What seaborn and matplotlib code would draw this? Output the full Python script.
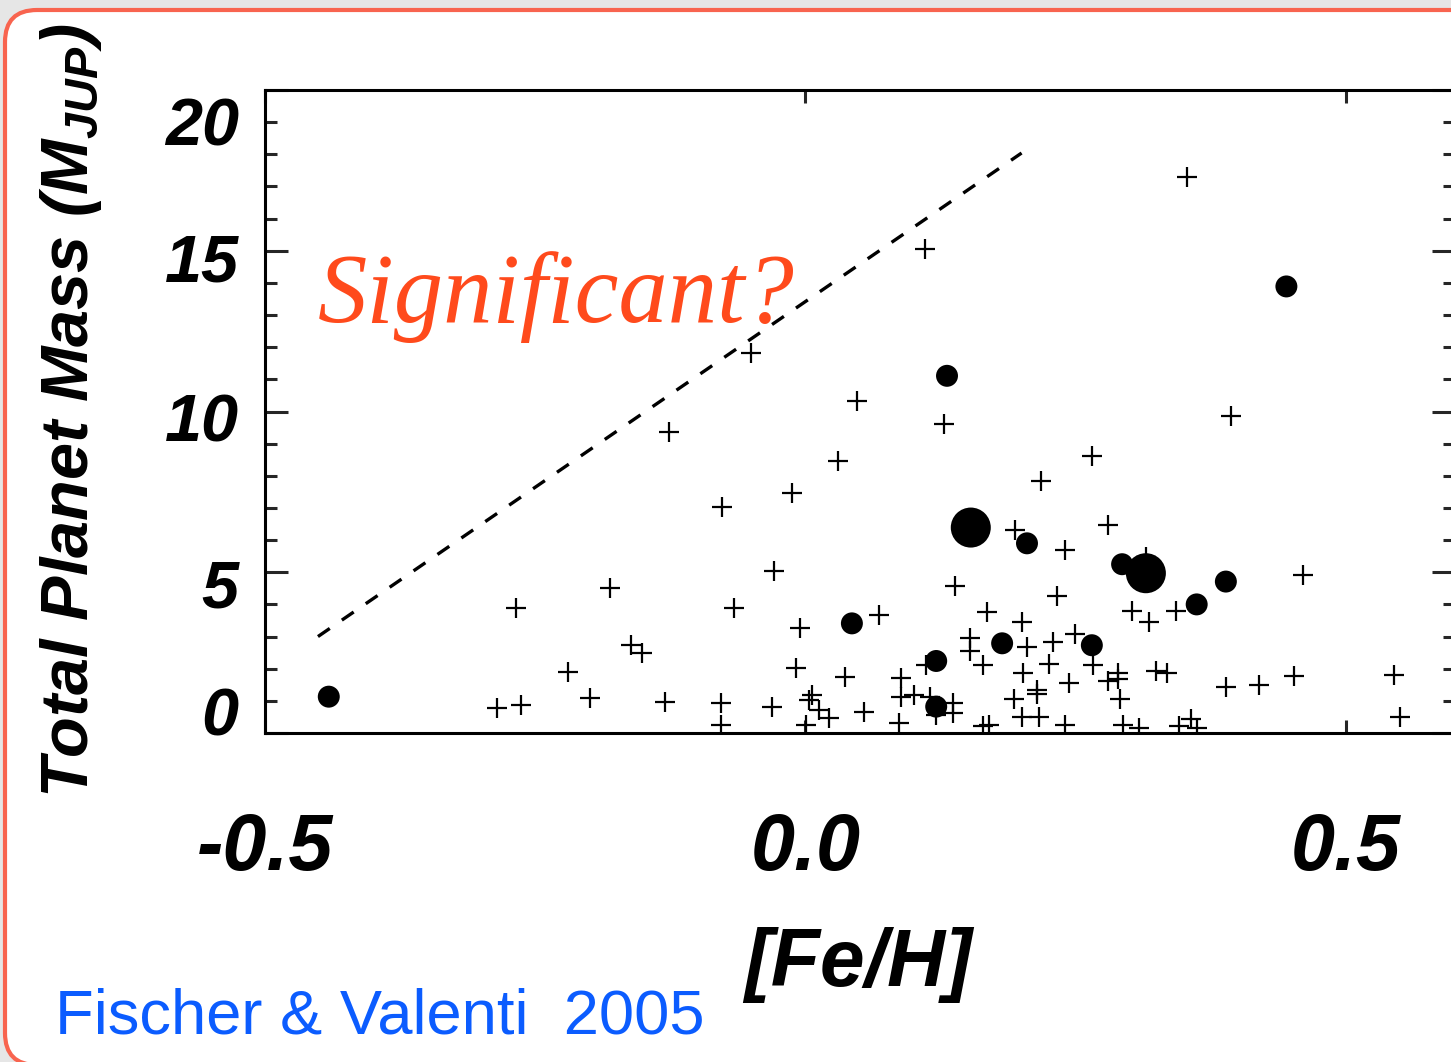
import matplotlib
matplotlib.use("Agg")
import matplotlib.pyplot as plt
import seaborn as sns
import pandas as pd
from matplotlib.patches import FancyBboxPatch
from matplotlib.transforms import ScaledTranslation

# ---------------- data ----------------
# single-planet / other systems (plus markers)
cross_feh = [-0.268, -0.181, -0.161, -0.151, -0.220, -0.199, -0.285, -0.263, -0.130,
             -0.066, 0.138, -0.005, 0.068, 0.168, 0.152, 0.152, 0.112, 0.164, -0.009,
             0.037, 0.088, 0.088, 0.100, 0.115, 0.137, 0.137, 0.121, -0.078, -0.078,
             -0.031, 0.006, 0.003, 0.013, 0.022, 0.001, 0.054, 0.087, 0.164, 0.170,
             0.233, 0.200, 0.302, 0.318, 0.343, 0.205, 0.229, 0.249, 0.266, 0.225,
             0.201, 0.244, 0.289, 0.289, 0.280, 0.324, 0.335, 0.389, 0.214, 0.214,
             0.193, 0.291, 0.200, 0.216, 0.240, 0.294, 0.309, 0.346, 0.357, 0.362,
             0.111, -0.050, 0.048, 0.128, -0.126, 0.030, -0.012, -0.077, 0.194, -0.029,
             0.394, 0.265, 0.218, 0.280, 0.240, 0.315, 0.460,
             0.420, 0.452, 0.545, 0.550, 0.353]
cross_mass = [3.88, 4.52, 2.74, 2.48, 1.91, 1.08, 0.77, 0.87, 0.97,
              3.88, 4.57, 3.28, 3.67, 3.75, 2.95, 2.56, 2.12, 2.12, 2.03,
              1.75, 1.72, 1.13, 1.18, 1.12, 0.94, 0.61, 0.56, 0.94, 0.25,
              0.82, 1.18, 1.03, 0.72, 0.46, 0.25, 0.64, 0.32, 0.23, 0.25,
              4.26, 3.46, 3.78, 3.45, 3.80, 2.67, 2.84, 3.07, 2.12, 2.15,
              1.86, 1.55, 1.86, 1.67, 1.63, 1.93, 1.86, 1.42, 1.34, 1.20,
              1.06, 1.05, 0.51, 0.49, 0.25, 0.25, 0.15, 0.23, 0.44, 0.15,
              15.05, 11.83, 10.34, 9.60, 9.37, 8.46, 7.46, 7.04, 6.31, 5.05,
              9.87, 8.62, 7.85, 6.47, 5.69, 5.47, 4.91,
              1.49, 1.77, 1.80, 0.49, 17.30]

# multi-planet systems (filled circles)
dot_feh = [-0.441, 0.043, 0.121, 0.121, 0.131, 0.153, 0.182, 0.205, 0.265,
           0.293, 0.315, 0.362, 0.389, 0.445]
dot_mass = [1.13, 3.41, 2.24, 0.82, 11.11, 6.39, 2.79, 5.90, 2.73,
            5.25, 4.97, 4.00, 4.71, 13.89]
dot_group = ["small", "small", "small", "small", "small", "large", "small", "small",
             "small", "small", "large", "small", "small", "small"]

# dashed upper envelope
guide_feh = [-0.451, 0.200]
guide_mass = [3.0, 18.04]

xtick_values = [-0.5, 0.0, 0.5]
xtick_labels = ["-0.5", "0.0", "0.5"]
ytick_values = [0, 5, 10, 15, 20]
ytick_labels = ["0", "5", "10", "15", "20"]

x_label = "[Fe/H]"
y_label = r"Total Planet Mass (M$_{JUP}$)"
annotation = "Significant?"
citation = "Fischer & Valenti  2005"

# ---------------- style ----------------
sns.set_theme(style="ticks")
plt.rcParams["font.family"] = ["Liberation Sans", "DejaVu Sans"]
plt.rcParams["axes.unicode_minus"] = False
plt.rcParams["mathtext.default"] = "regular"

W, H, DPI = 1451, 1062, 100
fig = plt.figure(figsize=(W / DPI, H / DPI), dpi=DPI)
fig.patch.set_facecolor("#e6e6e6")

# rounded slide panel
panel = FancyBboxPatch((0.05, -0.03), 16.0, 10.55,
                       boxstyle="round,pad=0,rounding_size=0.32",
                       transform=fig.dpi_scale_trans, facecolor="white",
                       edgecolor="#f8644f", linewidth=3.0, zorder=-5)
fig.add_artist(panel)

ax = fig.add_axes([265 / W, 1 - 733 / H, (1455 - 265) / W, (733 - 90) / H])
ax.set_facecolor("white")

crosses = pd.DataFrame({"feh": cross_feh, "mass": cross_mass})
dots = pd.DataFrame({"feh": dot_feh, "mass": dot_mass, "group": dot_group})

sns.scatterplot(data=crosses, x="feh", y="mass", marker="+", s=190,
                color="black", linewidth=1.6, ax=ax, zorder=3)
sns.scatterplot(data=dots, x="feh", y="mass", size="group",
                sizes={"small": 250, "large": 830}, color="black",
                linewidth=0, legend=False, ax=ax, zorder=4)
ax.plot(guide_feh, guide_mass, color="black", lw=2.4,
        linestyle=(0, (4.3, 4.4)), zorder=2)

ax.set_xlim(-0.5, 0.601)
ax.set_ylim(0, 20)

for s in ax.spines.values():
    s.set_linewidth(2.2)
    s.set_color("black")

ax.set_xticks(xtick_values)
ax.set_xticklabels(xtick_labels)
ax.set_yticks(ytick_values)
ax.set_yticklabels(ytick_labels)
ax.yaxis.set_minor_locator(matplotlib.ticker.MultipleLocator(1))

ax.tick_params(axis="x", which="major", direction="in", length=9.5, width=2.2,
               top=True, bottom=True, pad=57, labelsize=57)
ax.tick_params(axis="y", which="major", direction="in", length=16.5, width=2.2,
               left=True, right=True, pad=19, labelsize=48)
ax.tick_params(axis="y", which="minor", direction="in", length=8.6, width=2.2,
               left=True, right=True)

for lab in ax.get_xticklabels() + ax.get_yticklabels():
    lab.set_fontweight("bold")
    lab.set_fontstyle("italic")
    lab.set_color("black")

# hand-placed tick label offsets (pixels, positive = down) as in the slide
ynudge = [-22, 11, 6, 7, 31]
for lab, dy in zip(ax.get_yticklabels(), ynudge):
    lab.set_transform(lab.get_transform() +
                      ScaledTranslation(0, -dy / DPI, fig.dpi_scale_trans))

ax.set_xlabel(x_label, fontsize=58, fontweight="bold", fontstyle="italic",
              color="black", va="center")
ax.xaxis.set_label_coords((858 - 265) / 1190, (733 - 965) / 643)
ax.set_ylabel(y_label, fontsize=48, fontweight="bold", fontstyle="italic",
              color="black")
ax.yaxis.set_label_coords((104 - 265) / 1190, (733 - 411) / 643)

fig.text(318 / W, 1 - 322 / H, annotation, fontsize=71, fontstyle="italic",
         family=["Liberation Serif", "DejaVu Serif"], color="#ff4a1c",
         va="baseline", ha="left")
fig.text(55 / W, 1 - 1034 / H, citation, fontsize=45.5,
         family=["Liberation Sans", "DejaVu Sans"], color="#0b5cff",
         va="baseline", ha="left")

fig.savefig("out.png", dpi=DPI, facecolor=fig.get_facecolor())
